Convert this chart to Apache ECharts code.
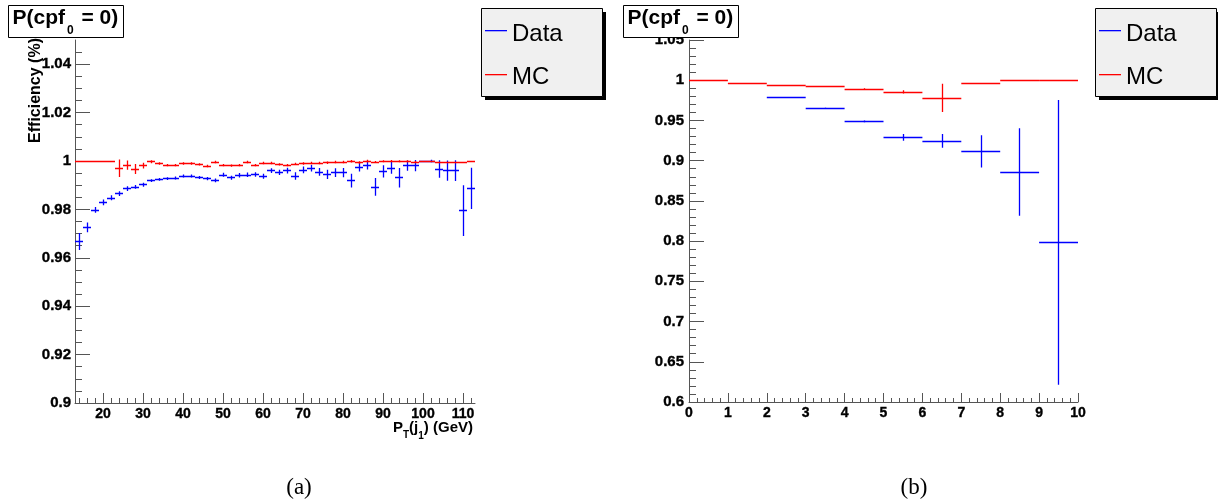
<!DOCTYPE html>
<html><head><meta charset="utf-8">
<script src="https://cdn.jsdelivr.net/npm/echarts@6/dist/echarts.min.js"></script>
<style>html,body{margin:0;padding:0;background:#fff}#c{width:1218px;height:503px}</style>
</head><body><div id="c"></div>
<script>
// ---------- Panel (a): efficiency vs PT(j1) ----------
const ptCenters = [14,16,18,20,22,24,26,28,30,32,34,36,38,40,42,44,46,48,50,52,54,56,58,60,62,64,66,68,70,72,74,76,78,80,82,84,86,88,90,92,94,96,98,100,102,104,106,108,110,112];
const ptData = [0.9667,0.9726,0.9798,0.9829,0.9848,0.9865,0.9886,0.9893,0.9902,0.9919,
  0.9924,0.9927,0.9930,0.9938,0.9938,0.9932,0.9927,0.9920,0.9943,0.9931,
  0.9941,0.9943,0.9944,0.9937,0.9960,0.9953,0.9960,0.9938,0.9963,0.9970,
  0.9955,0.9945,0.9952,0.9952,0.9919,0.9976,0.9983,0.9893,0.9957,0.9972,
  0.9931,0.9981,0.9981,1.0,1.0,0.9967,0.9960,0.9960,0.9795,0.9887];
const ptDataErr = [0.0035,0.002,0.0012,0.0012,0.001,0.001,0.001,0.0008,0.0008,0.0006,
  0.0006,0.0006,0.0006,0.0006,0.0006,0.0006,0.0007,0.0008,0.0008,0.0008,
  0.0009,0.0009,0.0009,0.001,0.001,0.0011,0.0012,0.0015,0.0014,0.0013,
  0.0016,0.0019,0.0018,0.0019,0.0028,0.0019,0.0018,0.0037,0.0025,0.0025,
  0.004,0.0021,0.0023,0,0.0005,0.0036,0.0042,0.0043,0.0105,0.0085];
const ptMC = [1,1,1,1,1,0.9970,0.9983,0.9967,0.9981,0.9997,
  0.9990,0.9983,0.9983,0.9990,0.9990,0.9986,0.9979,0.9996,0.9983,0.9981,
  0.9983,0.9996,0.9983,0.9992,0.9992,0.9986,0.9983,0.9988,0.9990,0.9992,
  0.9992,0.9993,0.9996,0.9996,0.9999,0.9994,1.0,0.9996,0.9999,1.0,
  0.9999,0.9999,0.9996,1.0,1.0,0.9993,0.9993,0.9993,0.9993,1.0];
const ptMCErr = [0,0,0,0,0,0.0036,0.0019,0.0021,0.0012,0.0006,
  0.0005,0.0005,0.0005,0.0005,0.0005,0.0005,0.0005,0.0005,0.0005,0.0005,
  0.0005,0.0005,0.0005,0.0005,0.0005,0.0005,0.0005,0.0005,0.0005,0.0005,
  0.0005,0.0005,0.0005,0.0005,0.0005,0.0005,0.0005,0.0004,0.0004,0.0004,
  0.0004,0.0004,0.0004,0,0,0,0,0,0,0];
const ptTicks = [20,30,40,50,60,70,80,90,100,110];
const effTicksA = [0.9,0.92,0.94,0.96,0.98,1,1.02,1.04];

// ---------- Panel (b): efficiency vs bin ----------
const cpfCenters = [0.5,1.5,2.5,3.5,4.5,5.5,6.5,7.5,8.5,9.5];
const cpfData = [null,null,0.979,0.965,0.9488,0.929,0.9247,0.9115,0.8859,0.7985];
const cpfDataErr = [0,0,0,0.0008,0.001,0.0043,0.0085,0.02,0.0545,0.177];
const cpfMC = [1.0,0.996,0.994,0.992,0.989,0.9855,0.978,0.996,1.0,1.0];
const cpfMCErr = [0,0,0,0.0005,0.001,0.002,0.0175,0,0,0];

const titleText = ['P(cpf', '0', ' = 0)'];
const legendNames = ['Data', 'MC'];
const BLUE = '#0000ff', RED = '#ff0000', AX = '#555';

// minor tick positions (axis decoration only)
const ptMinor = [];
for (let v = 14; v <= 112; v += 2) if (v % 10 !== 0) ptMinor.push(v);
const effMinorA = [];
for (let k = 1; k < 30; k++) if (k % 4 !== 0) effMinorA.push(+(0.9 + k * 0.005).toFixed(3));

const chart = echarts.init(document.getElementById('c'), null, {renderer: 'canvas'});
const fmt = v => String(+(+v).toFixed(3));
const lab = (size, margin, extra) => Object.assign({
  color: '#000', fontFamily: 'Liberation Sans', fontWeight: 'bold', fontSize: size, margin: margin, formatter: fmt,
  textBorderColor: '#000', textBorderWidth: 0.35
}, extra || {});

// error-bar segments built from the value arrays; positioned by the axes
function errSeries(name, xi, yi, centers, vals, errs, hw, color, z) {
  const segs = [];
  centers.forEach((c, i) => {
    if (vals[i] == null) return;
    segs.push({coords: [[c - hw, vals[i]], [c + hw, vals[i]]]});
    if (errs[i] > 0) segs.push({coords: [[c, vals[i] - errs[i]], [c, vals[i] + errs[i]]]});
  });
  return {
    type: 'lines', name: name, coordinateSystem: 'cartesian2d', xAxisIndex: xi, yAxisIndex: yi,
    z: z, silent: true, polyline: false, large: false,
    lineStyle: {color: color, width: 1.3, opacity: 1, type: 'solid', curveness: 0},
    emphasis: {disabled: true},
    data: segs
  };
}

// text helpers
const mctx = document.createElement('canvas').getContext('2d');
function tw(t, font) { mctx.font = font; return mctx.measureText(t).width; }
function pieces(x, parts, alignRight, z) {
  const fonts = parts.map(p => `bold ${p[1]}px "Liberation Sans"`);
  const widths = parts.map((p, i) => tw(p[0], fonts[i]) + (p[3] || 0));
  const total = widths.reduce((a, b) => a + b, 0);
  let cx = alignRight ? x - total : x;
  return parts.map((p, i) => {
    const el = {type: 'text', z: z, x: cx, y: p[2], style: {text: p[0], font: fonts[i], fill: '#000', align: 'left', verticalAlign: 'middle'}};
    cx += widths[i];
    return el;
  });
}
function titleBox(dx) {
  return [{type: 'rect', z: 100, shape: {x: 8.5 + dx, y: 5.5, width: 115, height: 32}, style: {fill: '#fff', stroke: '#000', lineWidth: 1}}]
    .concat(pieces(12.5 + dx, [[titleText[0], 21, 18, 2], [titleText[1], 12, 31, 2], [titleText[2], 21, 18]], false, 101));
}
function legendBox(dx) {
  return [
    {type: 'rect', z: 100, shape: {x: 485 + dx, y: 12, width: 121, height: 88}, style: {fill: '#000'}},
    {type: 'rect', z: 101, shape: {x: 481.5 + dx, y: 8.5, width: 121, height: 88}, style: {fill: '#f0f0f0', stroke: '#000', lineWidth: 1}},
    {type: 'rect', z: 102, shape: {x: 485 + dx, y: 30, width: 22, height: 1.3}, style: {fill: BLUE}},
    {type: 'text', z: 102, x: 512 + dx, y: 34, style: {text: legendNames[0], font: '24px "Liberation Sans"', fill: '#000', verticalAlign: 'middle'}},
    {type: 'rect', z: 102, shape: {x: 485 + dx, y: 74, width: 22, height: 1.3}, style: {fill: RED}},
    {type: 'text', z: 102, x: 512 + dx, y: 77, style: {text: legendNames[1], font: '24px "Liberation Sans"', fill: '#000', verticalAlign: 'middle'}}
  ];
}

const graphics = [].concat(
  titleBox(0), titleBox(615), legendBox(0), legendBox(614),
  [{type: 'text', z: 50, x: 36, y: 38, rotation: Math.PI / 2, style: {text: 'Efficiency (%)', font: 'bold 16px "Liberation Sans"', fill: '#000', align: 'right', verticalAlign: 'middle'}}],
  pieces(473, [['P', 15, 428], ['T', 10, 435], ['(j', 15, 428], ['1', 10, 436], [') (GeV)', 15, 428]], true, 50),
  [{type: 'text', z: 50, x: 299, y: 488, style: {text: '(a)', font: '23px "Liberation Serif"', fill: '#000', align: 'center', verticalAlign: 'middle'}},
   {type: 'text', z: 50, x: 914, y: 488, style: {text: '(b)', font: '23px "Liberation Serif"', fill: '#000', align: 'center', verticalAlign: 'middle'}}]
);

const option = {
  animation: false,
  backgroundColor: '#fff',
  textStyle: {fontFamily: 'Liberation Sans', fontWeight: 'bold'},
  grid: [
    {left: 75, top: 40, width: 400, height: 363},
    {left: 689, top: 40, width: 389, height: 362}
  ],
  xAxis: [
    {type: 'value', gridIndex: 0, position: 'bottom', min: 13, max: 113,
     axisLine: {onZero: false, lineStyle: {color: AX}},
     axisTick: {inside: true, length: 10, customValues: ptTicks, lineStyle: {color: AX}},
     axisLabel: lab(14, 4, {customValues: ptTicks}), splitLine: {show: false}},
    {type: 'value', gridIndex: 0, position: 'bottom', min: 13, max: 113,
     axisLine: {show: false, onZero: false},
     axisTick: {inside: true, length: 5, customValues: ptMinor, lineStyle: {color: AX}},
     axisLabel: {show: false}, splitLine: {show: false}},
    {type: 'value', gridIndex: 1, position: 'bottom', min: 0, max: 10, interval: 1,
     axisLine: {onZero: false, lineStyle: {color: AX}},
     axisTick: {inside: true, length: 9, lineStyle: {color: AX}},
     minorTick: {show: true, splitNumber: 5, length: 4, lineStyle: {color: AX}},
     axisLabel: lab(14, 4), splitLine: {show: false}}
  ],
  yAxis: [
    {type: 'value', gridIndex: 0, position: 'left', min: 0.9, max: 1.05,
     axisLine: {onZero: false, lineStyle: {color: AX}},
     axisTick: {inside: true, length: 15, customValues: effTicksA, lineStyle: {color: AX}},
     axisLabel: lab(15, 4, {customValues: effTicksA}), splitLine: {show: false}},
    {type: 'value', gridIndex: 0, position: 'left', min: 0.9, max: 1.05,
     axisLine: {show: false, onZero: false},
     axisTick: {inside: true, length: 7, customValues: effMinorA, lineStyle: {color: AX}},
     axisLabel: {show: false}, splitLine: {show: false}},
    {type: 'value', gridIndex: 1, position: 'left', min: 0.6, max: 1.05, interval: 0.05,
     axisLine: {onZero: false, lineStyle: {color: AX}},
     axisTick: {inside: true, length: 15, lineStyle: {color: AX}},
     minorTick: {show: true, splitNumber: 5, length: 7, lineStyle: {color: AX}},
     axisLabel: lab(15, 5), splitLine: {show: false}}
  ],
  series: [
    errSeries('Data', 0, 0, ptCenters, ptData, ptDataErr, 1, BLUE, 2),
    errSeries('MC', 0, 0, ptCenters, ptMC, ptMCErr, 1, RED, 3),
    errSeries('Data', 2, 2, cpfCenters, cpfData, cpfDataErr, 0.5, BLUE, 2),
    errSeries('MC', 2, 2, cpfCenters, cpfMC, cpfMCErr, 0.5, RED, 3)
  ],
  graphic: {elements: graphics}
};
chart.setOption(option);
</script>
</body></html>
